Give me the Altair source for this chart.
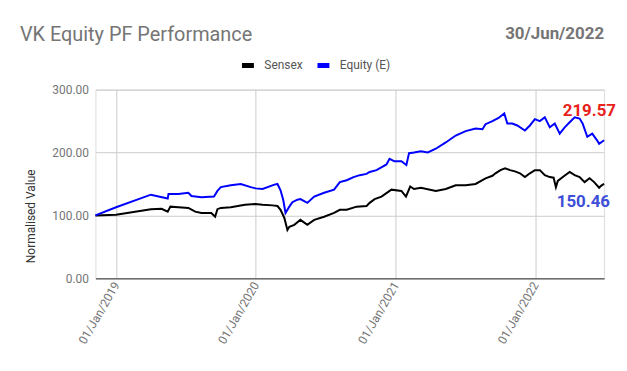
import altair as alt
import pandas as pd

TITLE = "VK Equity PF Performance"
AS_OF = "30/Jun/2022"
SERIES = ["Sensex", "Equity (E)"]
COLORS = ["#000000", "#0000ff"]

sensex_dates = [
    "2018-11-08", "2019-01-01", "2019-04-02", "2019-04-30", "2019-05-16", "2019-05-23",
    "2019-06-13", "2019-07-09", "2019-07-27", "2019-08-12", "2019-09-07", "2019-09-17",
    "2019-09-23", "2019-10-02", "2019-10-28", "2019-12-04", "2019-12-31", "2020-01-19",
    "2020-02-14", "2020-02-27", "2020-03-06", "2020-03-16", "2020-03-24", "2020-03-29",
    "2020-04-11", "2020-04-27", "2020-05-15", "2020-06-02", "2020-06-28", "2020-07-24",
    "2020-08-08", "2020-08-26", "2020-09-21", "2020-10-17", "2020-10-25", "2020-11-07",
    "2020-11-25", "2020-12-21", "2021-01-16", "2021-01-28", "2021-02-08", "2021-02-18",
    "2021-03-08", "2021-04-16", "2021-05-12", "2021-06-07", "2021-07-03", "2021-07-29",
    "2021-08-24", "2021-09-11", "2021-09-19", "2021-10-02", "2021-10-14", "2021-10-27",
    "2021-11-09", "2021-11-22", "2021-12-05", "2021-12-18", "2021-12-31", "2022-01-13",
    "2022-01-26", "2022-02-08", "2022-02-18", "2022-02-24", "2022-03-01", "2022-03-14",
    "2022-04-01", "2022-04-14", "2022-04-27", "2022-05-10", "2022-05-23", "2022-06-04",
    "2022-06-17", "2022-06-22", "2022-06-30",
]
sensex_values = [
    100, 101, 110, 110.5, 106, 114,
    113, 112, 106, 104, 104, 98,
    110, 112, 113, 117, 118, 117,
    116, 115, 109, 96, 77, 82,
    85, 93, 85, 93, 98, 104,
    109, 109, 114, 115, 120, 126,
    130, 141, 139, 130, 146, 142,
    144, 139, 142, 148, 148, 150,
    159, 163, 167, 172, 175, 172,
    170, 167, 161, 167, 172, 172,
    164, 161, 160, 145, 155, 161,
    169, 164, 161, 153, 159, 153,
    144, 147, 150.46,
]

equity_dates = [
    "2018-11-08", "2019-01-01", "2019-04-02", "2019-05-16", "2019-05-18", "2019-06-13",
    "2019-07-09", "2019-07-17", "2019-08-12", "2019-09-14", "2019-09-23", "2019-10-02",
    "2019-10-28", "2019-11-23", "2019-12-19", "2020-01-01", "2020-01-19", "2020-02-19",
    "2020-02-27", "2020-03-06", "2020-03-13", "2020-03-19", "2020-03-29", "2020-04-06",
    "2020-04-19", "2020-04-27", "2020-05-15", "2020-06-02", "2020-06-28", "2020-07-24",
    "2020-08-08", "2020-08-26", "2020-09-13", "2020-09-29", "2020-10-17", "2020-10-25",
    "2020-11-12", "2020-12-08", "2020-12-16", "2020-12-29", "2021-01-16", "2021-01-29",
    "2021-02-05", "2021-02-18", "2021-03-08", "2021-03-26", "2021-04-16", "2021-05-12",
    "2021-06-07", "2021-07-03", "2021-07-29", "2021-08-16", "2021-08-24", "2021-09-11",
    "2021-09-27", "2021-10-12", "2021-10-20", "2021-11-02", "2021-11-15", "2021-12-05",
    "2021-12-18", "2021-12-31", "2022-01-13", "2022-01-26", "2022-02-08", "2022-02-21",
    "2022-03-06", "2022-03-19", "2022-04-01", "2022-04-14", "2022-04-27", "2022-05-05",
    "2022-05-17", "2022-05-30", "2022-06-12", "2022-06-17", "2022-06-30",
]
equity_values = [
    100, 113, 133, 127, 134, 134,
    136, 131, 129, 130, 139, 145,
    148, 150, 145, 143, 142, 149,
    150, 140, 125, 104, 114, 121,
    125, 126, 120, 130, 136, 141,
    153, 156, 161, 164, 166, 169,
    172, 181, 190, 186, 186, 180,
    199, 200, 202, 200, 206, 216,
    227, 234, 238, 237, 245, 250,
    255, 262, 246, 246, 243, 235,
    243, 253, 250, 256, 240, 246,
    230, 240, 248, 256, 254, 246,
    225, 230, 219, 214, 219.57,
]

y_ticks = [0, 100, 200, 300]
x_tick_years = [2019, 2020, 2021, 2022]

df = pd.concat([
    pd.DataFrame({"date": sensex_dates, "value": sensex_values, "series": SERIES[0]}),
    pd.DataFrame({"date": equity_dates, "value": equity_values, "series": SERIES[1]}),
], ignore_index=True)

last = pd.DataFrame({
    "date": [equity_dates[-1], sensex_dates[-1]],
    "value": [equity_values[-1], sensex_values[-1]],
    "label": [f"{equity_values[-1]:.2f}", f"{sensex_values[-1]:.2f}"],
    "series": [SERIES[1], SERIES[0]],
})

font = "Roboto"

x_enc = alt.X(
    "date:T",
    scale=alt.Scale(
        type="utc",
        domain=[alt.DateTime(year=2018, month=11, date=8, utc=True),
                alt.DateTime(year=2022, month=6, date=30, utc=True)],
        nice=False,
    ),
    axis=alt.Axis(
        title=None,
        values=[alt.DateTime(year=y, month=1, date=1, utc=True) for y in x_tick_years],
        format="%d/%b/%Y",
        labelAngle=-60,
        labelAlign="right",
        labelBaseline="middle",
        labelFont=font,
        labelFontSize=12,
        labelColor="#757575",
        labelPadding=4,
        ticks=False,
        domain=True,
        domainColor="#333333",
        domainWidth=1,
        grid=True,
        gridColor="#cccccc",
        labelOverlap=False,
    ),
)

y_enc = alt.Y(
    "value:Q",
    scale=alt.Scale(domain=[0, 300], nice=False),
    axis=alt.Axis(
        title="Normalised Value",
        titleFont=font,
        titleFontSize=12,
        titleFontWeight="normal",
        titleColor="#333333",
        titlePadding=14,
        titleY=127,
        values=y_ticks,
        format=".2f",
        labelFont=font,
        labelFontSize=12,
        labelColor="#757575",
        labelPadding=7,
        ticks=False,
        domain=False,
        grid=True,
        gridColor="#cccccc",
    ),
)

lines = alt.Chart(df).mark_line(strokeWidth=2, interpolate="linear").encode(
    x=x_enc,
    y=y_enc,
    color=alt.Color(
        "series:N",
        scale=alt.Scale(domain=SERIES, range=COLORS),
        sort=SERIES,
        legend=alt.Legend(
            title=None,
            orient="none",
            direction="horizontal",
            legendX=145,
            legendY=-33,
            symbolType="stroke",
            symbolStrokeWidth=5,
            symbolSize=144,
            labelFont=font,
            labelFontSize=12,
            labelColor="#555555",
            labelOffset=8,
            columnPadding=4,
            padding=0,
        ),
    ),
    order=alt.Order("date:T"),
)

ann_top = alt.Chart(last.iloc[[0]]).mark_text(
    font=font, fontSize=17, fontWeight="bold", color="#e8221b",
    align="right", baseline="middle", dx=12, dy=-29,
).encode(x=alt.X("date:T"), y=alt.Y("value:Q"), text="label:N")

ann_bot = alt.Chart(last.iloc[[1]]).mark_text(
    font=font, fontSize=17, fontWeight="bold", color="#3d4fd6",
    align="right", baseline="middle", dx=6, dy=18,
).encode(x=alt.X("date:T"), y=alt.Y("value:Q"), text="label:N")

title_df = pd.DataFrame({"t": [TITLE]})
date_df = pd.DataFrame({"t": [AS_OF]})

title_txt = alt.Chart(title_df).mark_text(
    font=font, fontSize=20, color="#757575", align="left", baseline="alphabetic",
).encode(text="t:N", x=alt.value(-76), y=alt.value(-49))

date_txt = alt.Chart(date_df).mark_text(
    font=font, fontSize=17, fontWeight="bold", color="#757575", align="right",
    baseline="alphabetic",
).encode(text="t:N", x=alt.value(512), y=alt.value(-51))

chart = alt.layer(lines, ann_top, ann_bot, title_txt, date_txt).properties(
    width=512,
    height=190,
    autosize=alt.AutoSizeParams(type="none"),
    padding={"left": 88, "top": 81, "right": 15, "bottom": 76},
).configure_view(stroke=None).configure(background="white")

chart.save("out.html", embed_options={"renderer": "svg", "actions": False})
